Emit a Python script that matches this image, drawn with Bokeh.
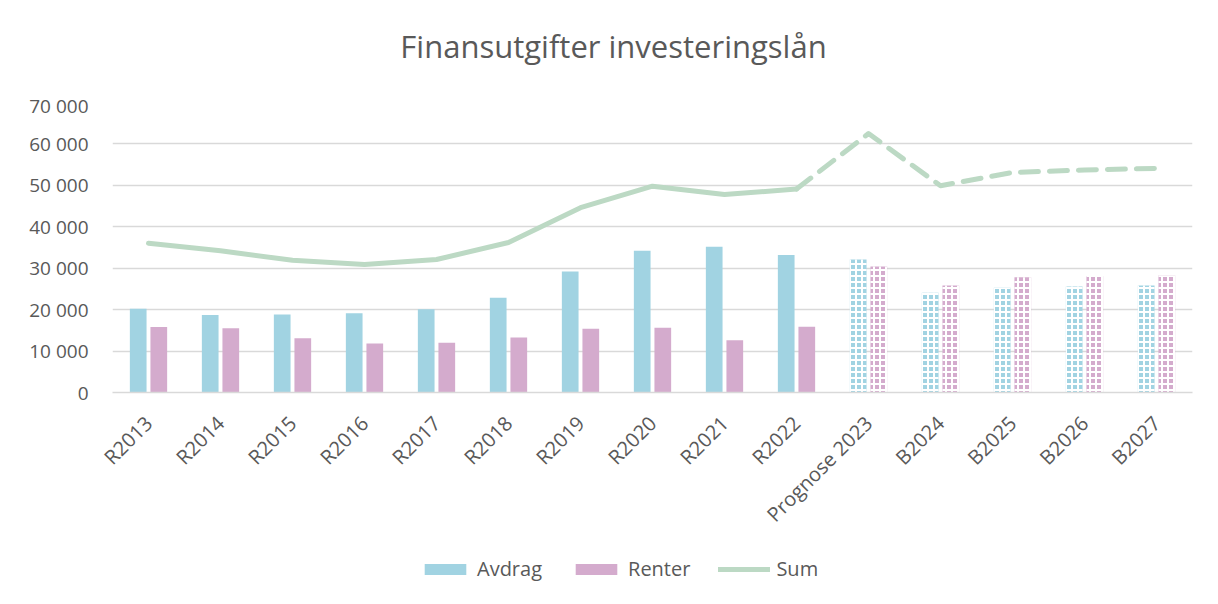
import math
from bokeh.plotting import figure
from bokeh.layouts import column
from bokeh.models import (ColumnDataSource, FactorRange, Range1d, Legend, LegendItem,
                          CustomJSTickFormatter, FixedTicker, Label)
from bokeh.transform import dodge
from bokeh.embed import file_html
from bokeh.resources import INLINE

categories = ["R2013", "R2014", "R2015", "R2016", "R2017", "R2018", "R2019", "R2020",
              "R2021", "R2022", "Prognose 2023", "B2024", "B2025", "B2026", "B2027"]
avdrag = [20200, 18700, 18800, 19100, 20100, 22900, 29200, 34200, 35200, 33200,
          32100, 24100, 25300, 25600, 25800]
renter = [15800, 15500, 13100, 11800, 12000, 13300, 15400, 15600, 12600, 15900,
          30400, 25800, 27800, 28100, 28300]
sum_total = [36000, 34200, 31900, 30900, 32100, 36200, 44600, 49800, 47800, 49100,
             62500, 49900, 53100, 53700, 54100]
n_actual = 10  # R2013..R2022 actual, rest forecast
title_text = "Finansutgifter investeringslån"
series_names = ["Avdrag", "Renter", "Sum"]

FONT = "Open Sans"
TXT = "#595959"
GRID = "#D9D9D9"
C_AVD = "#A1D3E2"
C_REN = "#D4ABCD"
C_SUM = "#BCD9C4"
W = 1210
FL, FR = 112, 18  # frame borders (frames of the stacked figures are aligned)


def bare(fig):
    fig.outline_line_color = None
    fig.xgrid.grid_line_color = None
    fig.ygrid.grid_line_color = None
    fig.border_fill_color = "white"
    fig.background_fill_color = "white"


# ---- header with the title ----
header = figure(width=W, height=92, x_range=Range1d(FL, W - FR), y_range=Range1d(0, 92),
                x_axis_type=None, y_axis_type=None, min_border=0,
                output_backend="svg", toolbar_location=None)
bare(header)
header.add_layout(Label(x=613, y=47, text=title_text, text_align="center",
                        text_baseline="middle", text_font=FONT, text_font_size="31px",
                        text_color=TXT))

# ---- main chart ----
act = ColumnDataSource(dict(cat=categories[:n_actual], avdrag=avdrag[:n_actual],
                            renter=renter[:n_actual]))
fc = ColumnDataSource(dict(cat=categories[n_actual:], avdrag=avdrag[n_actual:],
                           renter=renter[n_actual:]))
line_act = ColumnDataSource(dict(cat=categories[:n_actual], s=sum_total[:n_actual]))
line_fc = ColumnDataSource(dict(cat=categories[n_actual - 1:], s=sum_total[n_actual - 1:]))

p = figure(x_range=FactorRange(*categories, range_padding=0),
           y_range=Range1d(0, 70000), title=None,
           width=W, height=448, output_backend="svg", toolbar_location=None,
           min_border_left=FL, min_border_right=FR, min_border_top=10,
           min_border_bottom=148)
p.outline_line_color = None
p.background_fill_color = "white"
p.border_fill_color = "white"

bw = 0.232
off = 0.143
p.vbar(x=dodge("cat", -off, range=p.x_range), top="avdrag", width=bw, source=act,
       fill_color=C_AVD, line_color=None)
p.vbar(x=dodge("cat", off, range=p.x_range), top="renter", width=bw, source=act,
       fill_color=C_REN, line_color=None)
p.vbar(x=dodge("cat", -off, range=p.x_range), top="avdrag", width=bw, source=fc,
       fill_color=C_AVD, line_color=None, hatch_pattern="cross",
       hatch_color="white", hatch_scale=6, hatch_weight=2)
p.vbar(x=dodge("cat", off, range=p.x_range), top="renter", width=bw, source=fc,
       fill_color=C_REN, line_color=None, hatch_pattern="cross",
       hatch_color="white", hatch_scale=6, hatch_weight=2)

p.line(x="cat", y="s", source=line_act, line_color=C_SUM, line_width=5,
       line_cap="round", line_join="round")
p.line(x="cat", y="s", source=line_fc, line_color=C_SUM, line_width=5,
       line_dash="18 11", line_cap="round", line_join="round")

p.xgrid.grid_line_color = None
p.ygrid.grid_line_color = GRID
p.ygrid.grid_line_width = 1.5
p.yaxis.ticker = FixedTicker(ticks=list(range(0, 70001, 10000)))
p.yaxis.formatter = CustomJSTickFormatter(code="""
return tick.toFixed(0).replace(/\\B(?=(\\d{3})+(?!\\d))/g, ' ');
""")
p.yaxis.axis_line_color = None
p.yaxis.major_tick_line_color = None
p.yaxis.minor_tick_line_color = None
p.yaxis.major_label_standoff = 18

p.xaxis.axis_line_color = GRID
p.xaxis.axis_line_width = 1.5
p.xaxis.major_tick_line_color = None
p.xaxis.minor_tick_line_color = None
p.xaxis.major_label_orientation = math.pi / 4
p.xaxis.major_label_standoff = 21

p.yaxis.major_label_text_font_size = "19px"
p.xaxis.major_label_text_font_size = "20px"
for ax in (p.xaxis, p.yaxis):
    ax.major_label_text_font = FONT
    ax.major_label_text_color = TXT

# ---- legend strip (hidden swatch renderers; legend shows them without greying) ----
leg = figure(width=W, height=60, x_range=FactorRange(*categories, range_padding=0),
             y_range=Range1d(-2, -1), x_axis_type=None, y_axis_type=None, min_border=0,
             output_backend="svg", toolbar_location=None)
bare(leg)
g_avd = leg.vbar(x="cat", top="avdrag", width=bw, source=act, fill_color=C_AVD,
                 line_color=None, visible=False)
g_ren = leg.vbar(x="cat", top="renter", width=bw, source=act, fill_color=C_REN,
                 line_color=None, visible=False)
g_sum = leg.line(x="cat", y="s", source=line_act, line_color=C_SUM, line_width=5,
                 line_cap="round", visible=False)
legend = Legend(items=[LegendItem(label=series_names[0], renderers=[g_avd]),
                       LegendItem(label=series_names[1], renderers=[g_ren]),
                       LegendItem(label=series_names[2], renderers=[g_sum])],
                orientation="horizontal", location=(419 - FL, 18), padding=0,
                label_text_font=FONT, label_text_font_size="20px", label_text_color=TXT,
                glyph_width=52, glyph_height=14, spacing=28, label_standoff=6,
                inactive_fill_alpha=0,
                border_line_color=None, background_fill_alpha=0)
leg.add_layout(legend)

layout = column(header, p, leg, spacing=0)
open("out.html", "w").write(file_html(layout, INLINE))
